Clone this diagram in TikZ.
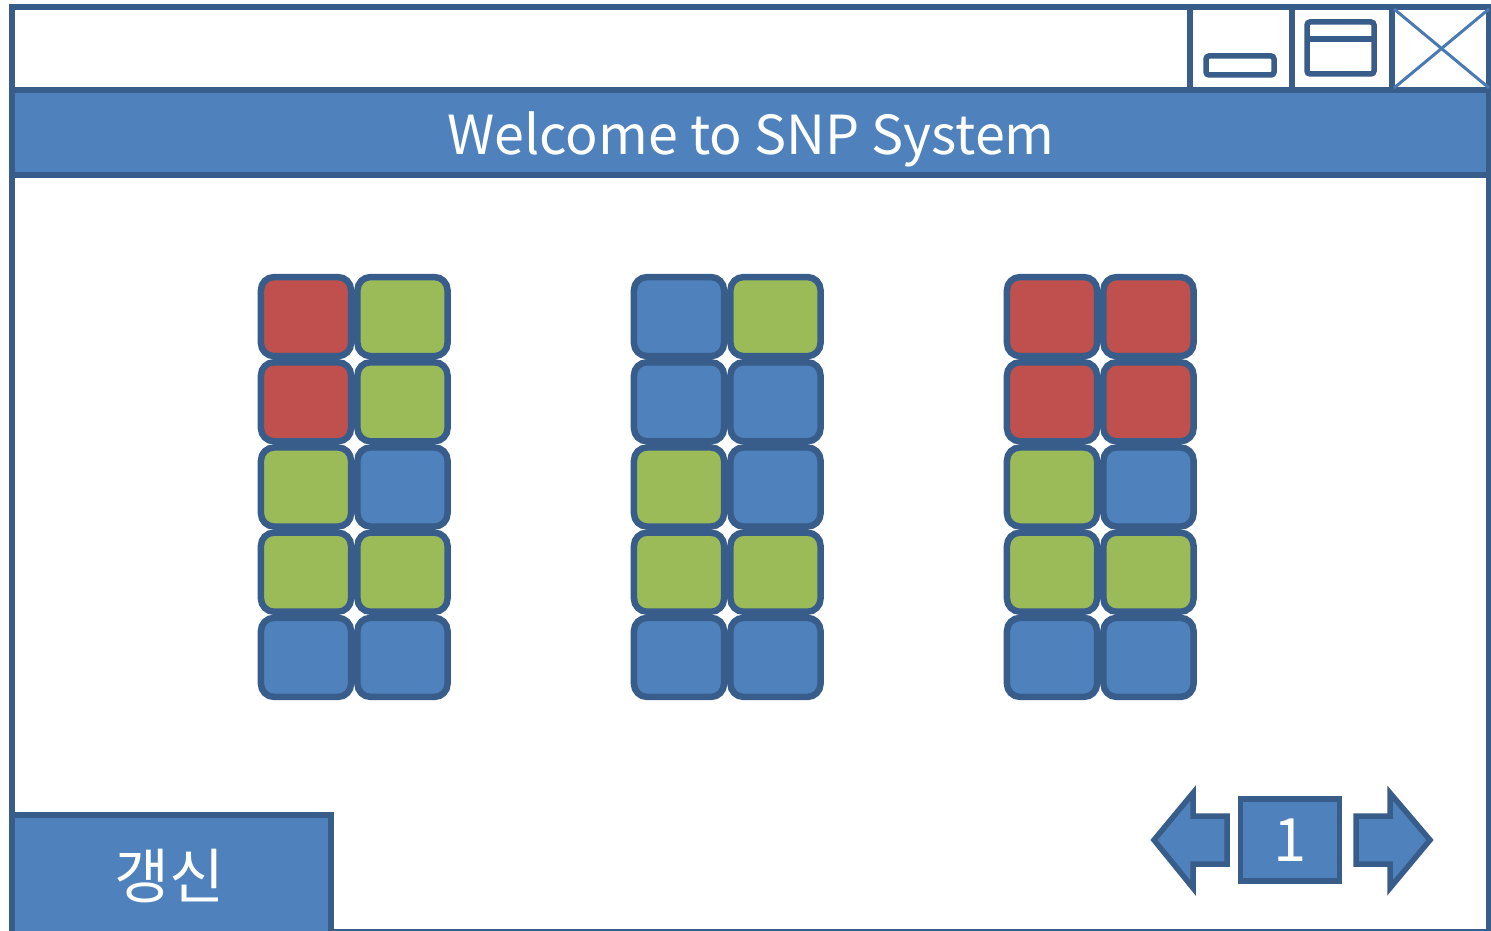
\documentclass[tikz,border=0pt]{standalone}
\usepackage{fontspec}
\setmainfont{Noto Sans CJK KR}
\usetikzlibrary{positioning}
\definecolor{uiblue}{HTML}{4F81BD}
\definecolor{uiedge}{HTML}{385D8A}
\definecolor{snpR}{HTML}{C0504D}
\definecolor{snpG}{HTML}{9BBB59}
\definecolor{snpB}{HTML}{4F81BD}
\tikzset{
  edge/.style={draw=uiedge, line width=0.055cm},
  cell/.style={draw=uiedge, line width=0.065cm, rounded corners=0.13cm, minimum width=0.9cm, minimum height=0.79cm, inner sep=0pt},
  label/.style={text=white, inner sep=0pt}
}

\begin{document}
\begin{tikzpicture}[x=0.01cm, y=-0.01cm]
        \useasboundingbox (0,0) rectangle (1491,931);
        % window frame and title bar
        \draw[edge, fill=white] (12,7) rectangle (1489,932);
        \draw[edge, fill=uiblue] (12,90) rectangle (1489,175);
        \node[label, font=\fontsize{15.3}{18}\selectfont] (title) at (751,139) {Welcome to SNP System};
        % window buttons
        \draw[edge] (1190,7) -- (1190,90) (1292,7) -- (1292,90) (1392,7) -- (1392,90);
        \draw[edge, rounded corners=0.03cm] (1206,56) rectangle (1274,75);
        \draw[edge, rounded corners=0.03cm] (1307,22) rectangle (1374,74);
        \draw[edge] (1307,39) -- (1374,39);
        \draw[uiblue!80!uiedge, line width=0.03cm] (1394,9) -- (1489,88) (1394,88) -- (1489,9);
        % snp grids
        \foreach \g/\gx/\cs in {1/258/{R/G,R/G,G/B,G/G,B/B},
                                2/631/{B/G,B/B,G/B,G/G,B/B},
                                3/1004/{R/R,R/R,G/B,G/G,B/B}} {
          \foreach \a/\b [count=\r] in \cs {
            \node[cell, fill=snp\a] (g\g-\r-1) at (\gx+48, 231.4+85.2*\r) {};
            \node[cell, fill=snp\b] (g\g-\r-2) at (\gx+144.5, 231.4+85.2*\r) {};
          }
        }
        % refresh button
        \draw[edge, fill=uiblue] (12,945) -- (12,815) -- (331,815) -- (331,945);
        \node[label, font=\fontsize{17}{21}\selectfont] (refresh) at (169,876) {갱신};
        % paging
        \node[edge, fill=uiblue, minimum width=0.99cm, minimum height=0.82cm, label,
              font=\fontsize{17}{20}\selectfont] (page) at (1290,840) {1};
        \draw[edge, fill=uiblue, line join=miter] (1154,840) -- (1193,793) -- (1193,816) -- (1227,816)
          -- (1227,864) -- (1193,864) -- (1193,888) -- cycle;
        \draw[edge, fill=uiblue, line join=miter] (1430,840) -- (1390,793) -- (1390,816) -- (1356,816)
          -- (1356,864) -- (1390,864) -- (1390,888) -- cycle;
\end{tikzpicture}
\end{document}
